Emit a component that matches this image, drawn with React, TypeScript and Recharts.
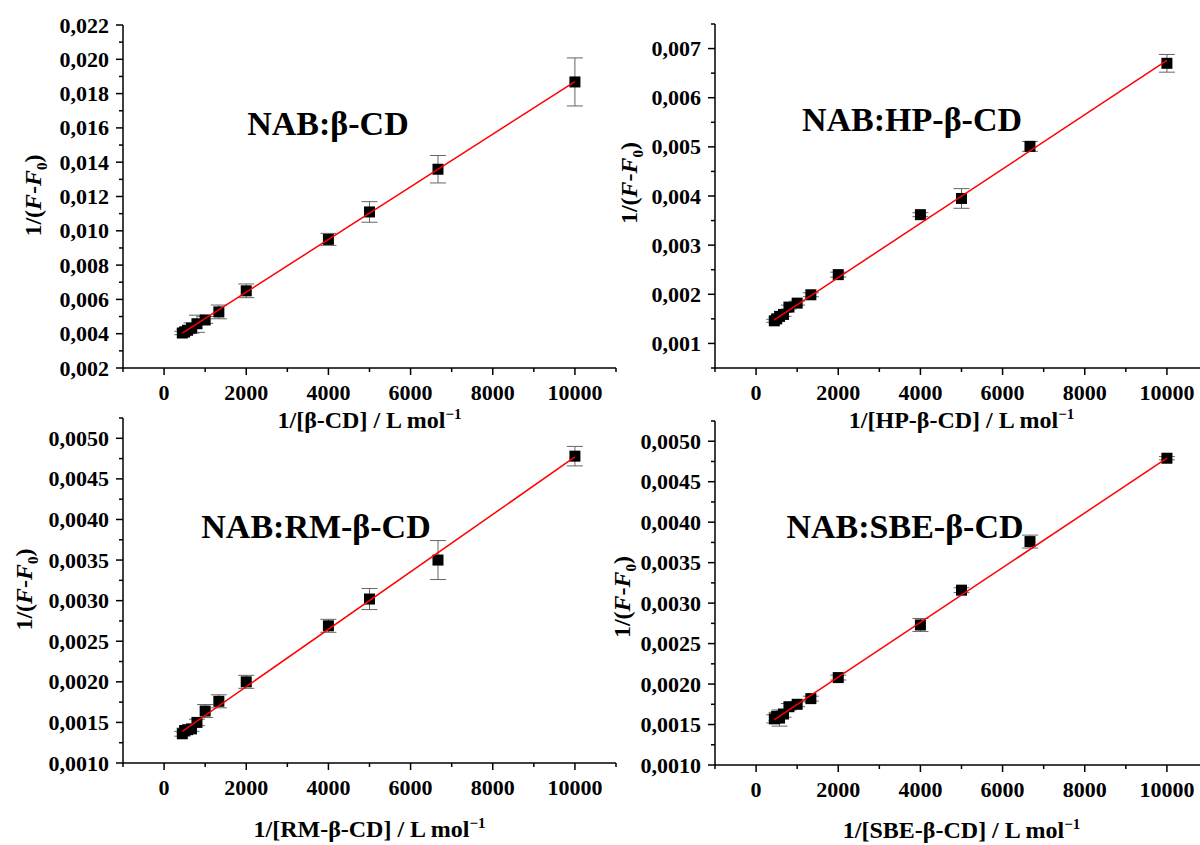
import React from 'react';
import { ScatterChart, Scatter, XAxis, YAxis, ErrorBar, Label } from 'recharts';

const FONT = "'Liberation Serif', 'Times New Roman', serif";

// 1/[CD] in L/mol, same for every host
const invConc = [444, 500, 571, 667, 800, 1000, 1333, 2000, 4000, 5000, 6667, 10000];
const fitRange = [444, 10000];

const betaY = [0.00404, 0.0041, 0.0042, 0.00433, 0.00458, 0.0048, 0.00527, 0.0065, 0.0095, 0.0111, 0.01359, 0.01868];
const betaErr = [0.0001, 0.00015, 0.0002, 0.0003, 0.0005, 0.0002, 0.0004, 0.0004, 0.00035, 0.0006, 0.0008, 0.0014];
const betaFit = [0.00404, 0.0187];

const hpY = [0.00146, 0.0015, 0.00155, 0.00159, 0.00174, 0.00182, 0.00199, 0.0024, 0.00362, 0.00395, 0.00501, 0.0067];
const hpErr = [0.00003, 0.00003, 0.00003, 0.00004, 0.00004, 0.00004, 0.00004, 0.00005, 0.00004, 0.0002, 0.0001, 0.00018];
const hpFit = [0.00148, 0.00676];

const rmY = [0.00136, 0.0014, 0.00141, 0.00142, 0.0015, 0.00164, 0.00176, 0.002, 0.00269, 0.00302, 0.0035, 0.00478];
const rmErr = [0.00003, 0.00003, 0.00003, 0.00003, 0.00004, 0.00008, 0.00008, 0.00008, 0.00008, 0.00013, 0.00024, 0.00012];
const rmFit = [0.00139, 0.00477];

const sbeY = [0.00157, 0.0016, 0.00158, 0.00163, 0.00172, 0.00175, 0.00182, 0.00208, 0.00273, 0.00316, 0.00376, 0.00479];
const sbeErr = [0.00005, 0.00005, 0.0001, 0.00004, 0.00004, 0.00003, 0.00003, 0.00003, 0.00008, 0.00003, 0.00008, 0.00002];
const sbeFit = [0.00156, 0.00479];

const xMajor = [0, 2000, 4000, 6000, 8000, 10000];
const xMinor = [-1000, 1000, 3000, 5000, 7000, 9000, 11000];

const betaYMajor = [0.002, 0.004, 0.006, 0.008, 0.01, 0.012, 0.014, 0.016, 0.018, 0.02, 0.022];
const betaYMinor = [0.003, 0.005, 0.007, 0.009, 0.011, 0.013, 0.015, 0.017, 0.019, 0.021];
const hpYMajor = [0.001, 0.002, 0.003, 0.004, 0.005, 0.006, 0.007];
const hpYMinor = [0.0005, 0.0015, 0.0025, 0.0035, 0.0045, 0.0055, 0.0065, 0.0075];
const lowYMajor = [0.001, 0.0015, 0.002, 0.0025, 0.003, 0.0035, 0.004, 0.0045, 0.005];
const lowYMinor = [0.00125, 0.00175, 0.00225, 0.00275, 0.00325, 0.00375, 0.00425, 0.00475, 0.00525];

const toPoints = (ys: number[], errs: number[]) => invConc.map((x, i) => ({ x, y: ys[i], err: errs[i] }));
const toFit = (ends: number[]) => fitRange.map((x, i) => ({ x, y: ends[i] }));

// xAxisH is the space under each plot (tick labels + axis title)
const panels = [
  {
    host: 'β-CD', left: 0, top: 0, height: 440, marginTop: 25, xAxisH: 72,
    yDomain: [0.002, 0.022], yMajor: betaYMajor, yMinor: betaYMinor, decimals: 3,
    points: toPoints(betaY, betaErr), fit: toFit(betaFit),
    yLabelX: 33, yLabelDy: -1, xLabelDy: 60,
  },
  {
    host: 'HP-β-CD', left: 592, top: 0, height: 440, marginTop: 24, xAxisH: 72,
    yDomain: [0.0005, 0.0075], yMajor: hpYMajor, yMinor: hpYMinor, decimals: 3,
    points: toPoints(hpY, hpErr), fit: toFit(hpFit),
    yLabelX: 37, yLabelDy: -13, xLabelDy: 60,
  },
  {
    host: 'RM-β-CD', left: 0, top: 400, height: 445, marginTop: 18, xAxisH: 82,
    yDomain: [0.001, 0.00525], yMajor: lowYMajor, yMinor: lowYMinor, decimals: 4,
    points: toPoints(rmY, rmErr), fit: toFit(rmFit),
    yLabelX: 24, yLabelDy: -1, xLabelDy: 74,
  },
  {
    host: 'SBE-β-CD', left: 592, top: 400, height: 445, marginTop: 21, xAxisH: 80,
    yDomain: [0.001, 0.00525], yMajor: lowYMajor, yMinor: lowYMinor, decimals: 4,
    points: toPoints(sbeY, sbeErr), fit: toFit(sbeFit),
    yLabelX: 30, yLabelDy: 4, xLabelDy: 73,
  },
];

const titles = [
  { text: 'NAB:β-CD', x: 328, y: 135 },
  { text: 'NAB:HP-β-CD', x: 912, y: 131 },
  { text: 'NAB:RM-β-CD', x: 316, y: 538 },
  { text: 'NAB:SBE-β-CD', x: 905, y: 538 },
];

function XTick(props: any) {
  const { x, y, payload } = props;
  const major = xMajor.includes(payload.value);
  return (
    <g>
      <line x1={x} x2={x} y1={y} y2={y + (major ? 7 : 4)} stroke="#000" strokeWidth={1.5} />
      {major && (
        <text x={x} y={y + 32} textAnchor="middle" fontFamily={FONT} fontWeight="bold" fontSize={22} fill="#000">
          {payload.value}
        </text>
      )}
    </g>
  );
}

function YTick(props: any) {
  const { x, y, payload, majors, decimals } = props;
  const major = majors.includes(payload.value);
  return (
    <g>
      <line x1={x} x2={x - (major ? 7 : 4)} y1={y} y2={y} stroke="#000" strokeWidth={1.5} />
      {major && (
        <text x={x - 14} y={y + 7.5} textAnchor="end" fontFamily={FONT} fontWeight="bold" fontSize={22} fill="#000">
          {payload.value.toFixed(decimals).replace('.', ',')}
        </text>
      )}
    </g>
  );
}

const square = (p: any) => <rect x={p.cx - 5.5} y={p.cy - 5.5} width={11} height={11} fill="#000" />;

function Panel({ p }: { p: (typeof panels)[number] }) {
  return (
    <div style={{ position: 'absolute', left: p.left, top: p.top }}>
      <ScatterChart width={620} height={p.height} margin={{ top: p.marginTop, right: 4, bottom: 0, left: 0 }}>
        <XAxis
          type="number" dataKey="x" domain={[-1000, 11000]} ticks={[...xMajor, ...xMinor]} interval={0}
          allowDataOverflow height={p.xAxisH} tickSize={0} tickMargin={0} tickLine={false}
          axisLine={{ stroke: '#000', strokeWidth: 1.5 }} tick={XTick}
        >
          <Label
            content={({ viewBox }: any) => (
              <text x={viewBox.x + viewBox.width / 2} y={viewBox.y + p.xLabelDy} textAnchor="middle"
                fontFamily={FONT} fontWeight="bold" fontSize={24} fill="#000">
                1/[{p.host}] / L mol<tspan dy={-9} fontSize={15}>−1</tspan>
              </text>
            )}
          />
        </XAxis>
        <YAxis
          type="number" dataKey="y" domain={p.yDomain} ticks={[...p.yMajor, ...p.yMinor]} interval={0}
          allowDataOverflow width={123} tickSize={0} tickMargin={0} tickLine={false}
          axisLine={{ stroke: '#000', strokeWidth: 1.5 }}
          tick={(t: any) => <YTick {...t} majors={p.yMajor} decimals={p.decimals} />}
        >
          <Label
            content={({ viewBox }: any) => {
              const cx = viewBox.x + p.yLabelX;
              const cy = viewBox.y + viewBox.height / 2 + p.yLabelDy;
              return (
                <text transform={`translate(${cx},${cy}) rotate(-90)`} x={0} y={8} textAnchor="middle"
                  fontFamily={FONT} fontWeight="bold" fontSize={24} fill="#000">
                  1/(<tspan fontStyle="italic">F</tspan>-<tspan fontStyle="italic">F</tspan>
                  <tspan dy={6} fontSize={15}>0</tspan><tspan dy={-6}>)</tspan>
                </text>
              );
            }}
          />
        </YAxis>
        <Scatter data={p.points} shape={square} isAnimationActive={false}>
          <ErrorBar dataKey="err" direction="y" width={8} stroke="#666" strokeWidth={1} isAnimationActive={false} />
        </Scatter>
        <Scatter data={p.fit} line={{ stroke: '#ff0000', strokeWidth: 1.5 }} shape={() => <g />} isAnimationActive={false} />
      </ScatterChart>
    </div>
  );
}

export default function App() {
  return (
    <div style={{ position: 'absolute', left: 0, top: 0, width: 1200, height: 845, overflow: 'hidden', background: '#fff' }}>
      {panels.map((p) => (
        <Panel key={p.host} p={p} />
      ))}
      <svg width={1200} height={845} style={{ position: 'absolute', left: 0, top: 0, pointerEvents: 'none' }}>
        {titles.map((t) => (
          <text key={t.text} x={t.x} y={t.y} textAnchor="middle" fontFamily={FONT} fontWeight="bold" fontSize={34} fill="#000">
            {t.text}
          </text>
        ))}
      </svg>
    </div>
  );
}
